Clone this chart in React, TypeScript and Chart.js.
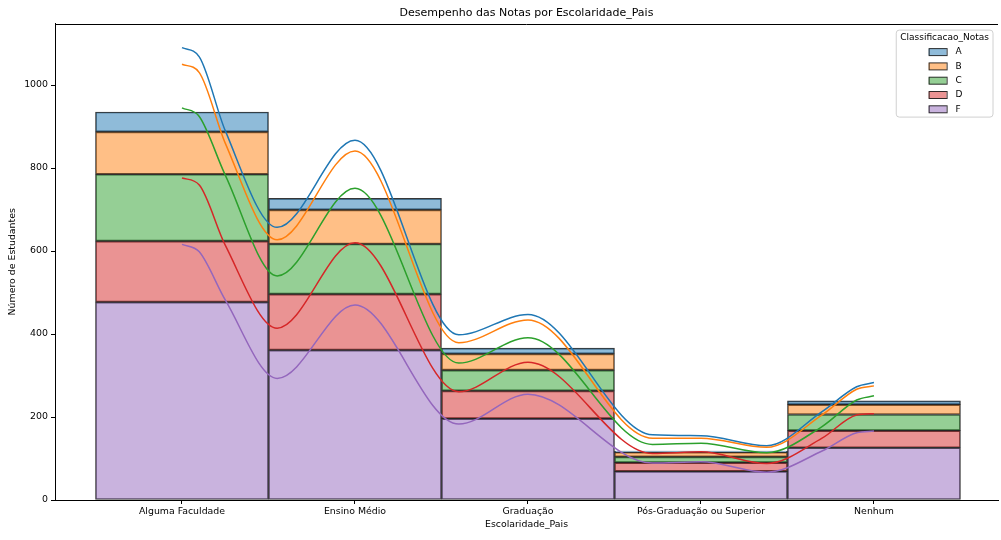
import { useEffect, useRef } from "react";
import { Chart, registerables } from "chart.js";

Chart.register(...registerables);

// Parent education level categories (x axis)
const categories = [
  "Alguma Faculdade",
  "Ensino Médio",
  "Graduação",
  "Pós-Graduação ou Superior",
  "Nenhum",
];

// Grade classes, legend order
const grades = ["A", "B", "C", "D", "F"];

// Student counts per grade for each category (stacked: F at the bottom, A on top)
const countA = [48, 28, 14, 3, 9];
const countB = [102, 82, 39, 11, 24];
const countC = [161, 121, 50, 14, 39];
const countD = [147, 135, 67, 21, 41];
const countF = [477, 361, 196, 69, 126];

// Stacked KDE outlines: cumulative height of each grade's curve along the category axis
const kdeX = [0, 0.1, 0.25, 0.55, 1, 1.6, 2, 2.72, 3, 3.38, 3.7, 3.9, 4];
const kdeA = [1090, 1068, 890, 657, 867, 398, 447, 157, 155, 131, 213, 273, 283];
const kdeB = [1050, 1030, 860, 627, 841, 379, 434, 149, 149, 127, 205, 267, 275];
const kdeC = [945, 924, 783, 540, 751, 330, 391, 134, 137, 114, 177, 241, 251];
const kdeD = [776, 759, 614, 414, 620, 261, 332, 112, 116, 88, 149, 205, 208];
const kdeF = [616, 598, 482, 293, 470, 183, 255, 89, 92, 67, 118, 162, 166];

// Y axis ticks
const yTickStep = 200;
const yMax = 1148;

const FONT = "'DejaVu Sans', 'Liberation Sans', sans-serif";

const rgb: Record<string, string> = {
  A: "31,119,180",
  B: "255,127,14",
  C: "44,160,44",
  D: "214,39,40",
  F: "148,103,189",
};

const counts: Record<string, number[]> = { A: countA, B: countB, C: countC, D: countD, F: countF };
const kdes: Record<string, number[]> = { A: kdeA, B: kdeB, C: kdeC, D: kdeD, F: kdeF };

// Frame line along the top of the plot area
const topFramePlugin = {
  id: "topFrame",
  afterDatasetsDraw(chart: any) {
    const { ctx, chartArea } = chart;
    ctx.save();
    ctx.strokeStyle = "#000";
    ctx.lineWidth = 1;
    ctx.beginPath();
    ctx.moveTo(chartArea.left, Math.round(chartArea.top) + 0.5);
    ctx.lineTo(chartArea.right, Math.round(chartArea.top) + 0.5);
    ctx.stroke();
    ctx.restore();
  },
};

// Boxed legend with a title in the upper right corner of the plot
const gradeLegendPlugin = {
  id: "gradeLegend",
  afterDraw(chart: any) {
    const { ctx, chartArea } = chart;
    const title = "Classificacao_Notas";
    ctx.save();
    ctx.font = `9px ${FONT}`;
    const titleW = ctx.measureText(title).width;
    const boxW = Math.max(titleW + 8, 90);
    const boxH = 87;
    const right = chartArea.right - 5;
    const left = right - boxW;
    const top = chartArea.top + 6.5;
    const r = 3;

    ctx.beginPath();
    ctx.moveTo(left + r, top);
    ctx.lineTo(right - r, top);
    ctx.quadraticCurveTo(right, top, right, top + r);
    ctx.lineTo(right, top + boxH - r);
    ctx.quadraticCurveTo(right, top + boxH, right - r, top + boxH);
    ctx.lineTo(left + r, top + boxH);
    ctx.quadraticCurveTo(left, top + boxH, left, top + boxH - r);
    ctx.lineTo(left, top + r);
    ctx.quadraticCurveTo(left, top, left + r, top);
    ctx.closePath();
    ctx.fillStyle = "rgba(255,255,255,0.8)";
    ctx.fill();
    ctx.strokeStyle = "#d0d0d0";
    ctx.lineWidth = 1;
    ctx.stroke();

    ctx.fillStyle = "#000";
    ctx.textAlign = "center";
    ctx.textBaseline = "middle";
    ctx.fillText(title, (left + right) / 2, top + 8);

    const cx = (left + right) / 2;
    grades.forEach((g, i) => {
      const y = top + 22 + i * 14.3;
      const px = cx - 16;
      ctx.fillStyle = `rgba(${rgb[g]},0.5)`;
      ctx.fillRect(px, y - 3.5, 18, 7);
      ctx.strokeStyle = "rgba(0,0,0,0.8)";
      ctx.lineWidth = 1;
      ctx.strokeRect(px + 0.5, y - 3.5, 18, 7);
      ctx.fillStyle = "#000";
      ctx.textAlign = "left";
      ctx.fillText(g, px + 27, y);
    });
    ctx.restore();
  },
};

export default function App() {
  const canvasRef = useRef<HTMLCanvasElement | null>(null);

  useEffect(() => {
    const canvas = canvasRef.current;
    if (!canvas) return;

    const stackOrder = ["F", "D", "C", "B", "A"];

    const barSets = stackOrder.map((g) => ({
      type: "bar" as const,
      label: g,
      data: counts[g].map((v, i) => ({ x: i, y: v })),
      backgroundColor: `rgba(${rgb[g]},0.5)`,
      borderColor: "rgba(20,20,20,0.85)",
      borderWidth: 1,
      borderSkipped: false,
      barPercentage: 1,
      categoryPercentage: 1,
      order: 1,
    }));

    const lineSets = stackOrder.map((g) => ({
      type: "line" as const,
      label: `kde ${g}`,
      data: kdeX.map((x, i) => ({ x, y: kdes[g][i] })),
      borderColor: `rgb(${rgb[g]})`,
      borderWidth: 1.5,
      pointRadius: 0,
      fill: false,
      cubicInterpolationMode: "monotone" as const,
      stack: `kde-${g}`,
      order: 0,
    }));

    const chart = new Chart(canvas, {
      type: "bar",
      data: { datasets: [...barSets, ...lineSets] as any },
      options: {
        responsive: false,
        animation: false,
        devicePixelRatio: 1,
        layout: { padding: { left: 0, right: 3, top: 0, bottom: 0 } },
        plugins: {
          legend: { display: false },
          tooltip: { enabled: false },
          title: {
            display: true,
            text: "Desempenho das Notas por Escolaridade_Pais",
            fullSize: false,
            color: "#000",
            font: { family: FONT, size: 11, weight: "normal" },
            padding: { top: 7, bottom: 3.4 },
          },
        },
        scales: {
          x: {
            type: "linear",
            stacked: true,
            offset: false,
            min: -0.7341,
            max: 4.717,
            afterBuildTicks: (scale: any) => {
              scale.ticks = categories.map((_, i) => ({ value: i }));
            },
            afterFit: (scale: any) => {
              scale.height = 40;
            },
            ticks: {
              autoSkip: false,
              maxRotation: 0,
              padding: 2,
              color: "#000",
              font: { family: FONT, size: 9.4 },
              callback: (v: any) => categories[Number(v)] ?? "",
            },
            grid: {
              display: true,
              offset: false,
              drawOnChartArea: false,
              drawTicks: true,
              tickLength: 4,
              color: "#000",
            },
            border: { display: true, color: "#000", width: 1 },
            title: {
              display: true,
              text: "Escolaridade_Pais",
              color: "#000",
              font: { family: FONT, size: 9.4 },
              padding: { top: 0, bottom: 9.5 },
            },
          },
          y: {
            type: "linear",
            stacked: true,
            min: 0,
            max: yMax,
            afterFit: (scale: any) => {
              scale.width = 55;
            },
            ticks: {
              stepSize: yTickStep,
              includeBounds: false,
              padding: 3,
              color: "#000",
              font: { family: FONT, size: 9.4 },
              callback: (v: any) => String(v),
            },
            grid: {
              display: true,
              drawOnChartArea: false,
              drawTicks: true,
              tickLength: 4,
              color: "#000",
            },
            border: { display: true, color: "#000", width: 1 },
            title: {
              display: true,
              text: "Número de Estudantes",
              color: "#000",
              font: { family: FONT, size: 9.4 },
              padding: { top: 7, bottom: 0 },
            },
          },
        },
      } as any,
      plugins: [topFramePlugin, gradeLegendPlugin],
    });

    return () => chart.destroy();
  }, []);

  return (
    <div style={{ position: "absolute", left: 0, top: 0, width: 1001, height: 540, background: "#fff" }}>
      <canvas ref={canvasRef} width={1001} height={540} />
    </div>
  );
}
